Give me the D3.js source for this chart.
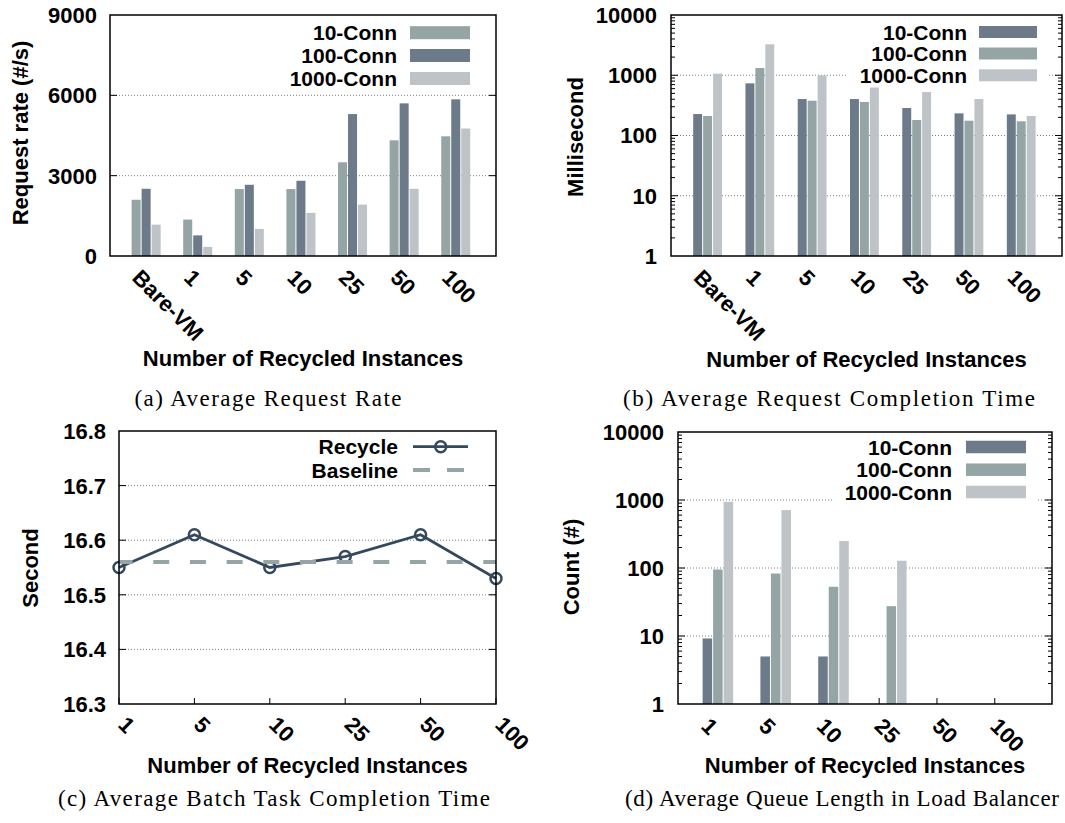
<!DOCTYPE html>
<html>
<head>
<meta charset="utf-8">
<script src="https://cdn.jsdelivr.net/npm/d3@7"></script>
<style>
  body { margin: 0; background: #fff; }
  svg text { font-family: "Liberation Sans", Arial, sans-serif; font-weight: bold; font-size: 22px; fill: #000; }
  svg text.key { font-size: 21px; }
  svg text.caption { font-family: "Liberation Serif", "Times New Roman", serif; font-weight: normal; font-size: 23px; }
</style>
</head>
<body>
<svg width="1065" height="823"></svg>
<script>
const groupsAB = ["Bare-VM", "1", "5", "10", "25", "50", "100"];
const groupsCD = ["1", "5", "10", "25", "50", "100"];
const connNames = ["10-Conn", "100-Conn", "1000-Conn"];

// (a) request rate, #/s
const rate10 = [2100, 1360, 2500, 2500, 3500, 4320, 4470];
const rate100 = [2510, 770, 2660, 2810, 5300, 5700, 5850];
const rate1000 = [1170, 340, 1010, 1610, 1920, 2510, 4760];

// (b) completion time, ms
const time10 = [227, 734, 403, 403, 286, 233, 224];
const time100 = [211, 1320, 378, 360, 181, 176, 172];
const time1000 = [1063, 3260, 997, 630, 527, 403, 211];

// (c) batch task time, s
const batchRecycle = [16.55, 16.61, 16.55, 16.57, 16.61, 16.53];
const batchBaseline = 16.56;

// (d) queue length
const queue10 = [9.2, 5, 5, null, null, null];
const queue100 = [95, 83, 53, 27.5, null, null];
const queue1000 = [940, 710, 250, 128, null, null];

const rateTicks = [0, 3000, 6000, 9000];
const logTicks = [1, 10, 100, 1000, 10000];
const secondTicks = [16.3, 16.4, 16.5, 16.6, 16.7, 16.8];

const dark = "#6c7a89", mid = "#95a5a6", light = "#bdc3c7", navy = "#34495e";

const svg = d3.select("svg");

function gridLines(g, b, y, vals) {
  g.append("g").selectAll("line").data(vals).join("line")
    .attr("x1", b.left).attr("x2", b.right)
    .attr("y1", d => y(d)).attr("y2", d => y(d))
    .attr("stroke", "#7f7f7f").attr("stroke-width", 1)
    .attr("stroke-dasharray", "1,2");
}

function sideTicks(g, b, y, vals, len) {
  const t = g.append("g").attr("stroke", "#000").attr("stroke-width", 1);
  vals.forEach(v => {
    t.append("line").attr("x1", b.left).attr("x2", b.left + len).attr("y1", y(v)).attr("y2", y(v));
    t.append("line").attr("x1", b.right).attr("x2", b.right - len).attr("y1", y(v)).attr("y2", y(v));
  });
}

function minorLog() {
  const out = [];
  [1, 10, 100, 1000].forEach(d => { for (let k = 2; k <= 9; k++) out.push(d * k); });
  return out;
}

function yLabels(g, b, y, vals, xr, fmt) {
  g.append("g").selectAll("text").data(vals).join("text")
    .attr("x", xr).attr("y", d => y(d)).attr("dy", "0.36em")
    .attr("text-anchor", "end").text(fmt);
}

function xLabels(g, pos, names, dy) {
  g.append("g").selectAll("text").data(names).join("text")
    .attr("transform", (d, i) => `translate(${pos(i)},${dy}) rotate(45)`)
    .text(d => d);
}

function titles(g, b, yTitle, yt, xBase, cap, capX, capY, capW) {
  g.append("text")
    .attr("transform", `translate(${yt[0]},${yt[1]}) rotate(-90)`)
    .attr("text-anchor", "middle").attr("dy", "0.36em").text(yTitle);
  g.append("text")
    .attr("x", (b.left + b.right) / 2).attr("y", xBase)
    .attr("text-anchor", "middle").text("Number of Recycled Instances");
  g.append("text").attr("class", "caption")
    .attr("x", capX).attr("y", capY).attr("text-anchor", "middle")
    .attr("textLength", capW).attr("lengthAdjust", "spacing")
    .text(cap);
}

function frame(g, b) {
  g.append("rect")
    .attr("x", b.left).attr("y", b.top)
    .attr("width", b.right - b.left).attr("height", b.bottom - b.top)
    .attr("fill", "none").attr("stroke", "#000").attr("stroke-width", 1.5);
}

function barLegend(g, lg, colors) {
  const l = g.append("g");
  l.append("rect")
    .attr("x", lg.textRight - 120).attr("y", lg.rows[0] - 12)
    .attr("width", lg.swRight - lg.textRight + 130)
    .attr("height", lg.rows[2] - lg.rows[0] + 24)
    .attr("fill", "#fff");
  connNames.forEach((n, j) => {
    l.append("text").attr("class", "key").attr("x", lg.textRight).attr("y", lg.rows[j])
      .attr("dy", "0.36em").attr("text-anchor", "end").text(n);
    l.append("rect").attr("x", lg.swLeft).attr("y", lg.rows[j] - lg.h / 2)
      .attr("width", lg.swRight - lg.swLeft).attr("height", lg.h)
      .attr("fill", colors[j]);
  });
}

function barPanel(p) {
  const g = svg.append("g");
  const b = p.box;
  const x = d3.scaleLinear().domain(p.xDomain).range([b.left, b.right]);
  const y = p.y;
  const bw = x(p.barW) - x(0);

  gridLines(g, b, y, p.grid);
  if (p.minor) sideTicks(g, b, y, p.minor, 4);
  sideTicks(g, b, y, p.grid, 7);

  g.append("g").selectAll("line").data(p.groups).join("line")
    .attr("x1", (d, i) => x(i - p.tickOff)).attr("x2", (d, i) => x(i - p.tickOff))
    .attr("y1", b.bottom).attr("y2", b.bottom - 6)
    .attr("stroke", "#000");

  p.series.forEach((vals, j) => {
    g.append("g").selectAll("rect")
      .data(vals.map((v, i) => ({ v, i })).filter(d => d.v != null))
      .join("rect")
      .attr("x", d => x(d.i + (j - 1) * p.barW) - bw / 2 + 0.5)
      .attr("width", bw - 1)
      .attr("y", d => y(d.v))
      .attr("height", d => y(p.base) - y(d.v))
      .attr("fill", p.colors[j]);
  });

  barLegend(g, p.legend, p.colors);
  frame(g, b);
  yLabels(g, b, y, p.ticks, p.tickRight, d => d);
  xLabels(g, i => x(i) + p.labDx, p.groups, b.bottom + p.labDy);
  titles(g, b, p.yTitle, p.yTitlePos, p.xBase, p.caption, p.capX, p.capY, p.capW);
}

// (a)
const boxA = { left: 110, top: 15, right: 496, bottom: 256 };
barPanel({
  box: boxA,
  xDomain: [-0.7, 6.78],
  y: d3.scaleLinear().domain([0, 9000]).range([boxA.bottom, boxA.top]),
  base: 0,
  groups: groupsAB,
  series: [rate10, rate100, rate1000],
  colors: [mid, dark, light],
  barW: 0.194,
  tickOff: 0.22,
  grid: [3000, 6000],
  ticks: rateTicks,
  tickRight: 97,
  labDx: -15, labDy: 23,
  legend: { textRight: 397, swLeft: 410, swRight: 470, h: 13, rows: [32.7, 55.5, 78.5] },
  yTitle: "Request rate (#/s)", yTitlePos: [20, 133],
  xBase: 366,
  caption: "(a) Average Request Rate", capX: 268, capY: 406, capW: 267
});

// (b)
const boxB = { left: 671, top: 15, right: 1062, bottom: 256 };
barPanel({
  box: boxB,
  xDomain: [-0.7, 6.78],
  y: d3.scaleLog().domain([1, 10000]).range([boxB.bottom, boxB.top]),
  base: 1,
  groups: groupsAB,
  series: [time10, time100, time1000],
  colors: [dark, mid, light],
  barW: 0.19,
  tickOff: 0.22,
  grid: [10, 100, 1000],
  minor: minorLog(),
  ticks: logTicks,
  tickRight: 657,
  labDx: -15, labDy: 23,
  legend: { textRight: 967, swLeft: 979, swRight: 1037, h: 12, rows: [32, 53.5, 75.3] },
  yTitle: "Millisecond", yTitlePos: [575.5, 137],
  xBase: 367,
  caption: "(b) Average Request Completion Time", capX: 829, capY: 406, capW: 412
});

// (d)
const boxD = { left: 678, top: 432, right: 1052, bottom: 704 };
barPanel({
  box: boxD,
  xDomain: [-0.69, 5.78],
  y: d3.scaleLog().domain([1, 10000]).range([boxD.bottom, boxD.top]),
  base: 1,
  groups: groupsCD,
  series: [queue10, queue100, queue1000],
  colors: [dark, mid, light],
  barW: 0.182,
  tickOff: 0.21,
  grid: [10, 100, 1000],
  minor: minorLog(),
  ticks: logTicks,
  tickRight: 664,
  labDx: -18, labDy: 23.5,
  legend: { textRight: 952, swLeft: 966, swRight: 1026, h: 12.5, rows: [447, 469.7, 492] },
  yTitle: "Count (#)", yTitlePos: [571, 567],
  xBase: 773,
  caption: "(d) Average Queue Length in Load Balancer", capX: 842, capY: 806, capW: 434
});

// (c)
const boxC = { left: 119, top: 431, right: 496, bottom: 704 };
const gc = svg.append("g");
const xc = d3.scaleLinear().domain([0, groupsCD.length - 1]).range([boxC.left, boxC.right]);
const yc = d3.scaleLinear().domain([16.3, 16.8]).range([boxC.bottom, boxC.top]);

gridLines(gc, boxC, yc, [16.4, 16.5, 16.6, 16.7]);
sideTicks(gc, boxC, yc, [16.4, 16.5, 16.6, 16.7], 7);
gc.append("g").selectAll("line").data(groupsCD).join("line")
  .attr("x1", (d, i) => xc(i)).attr("x2", (d, i) => xc(i))
  .attr("y1", boxC.bottom).attr("y2", boxC.bottom - 6)
  .attr("stroke", "#000");

gc.append("path")
  .datum(batchRecycle)
  .attr("d", d3.line().x((d, i) => xc(i)).y(d => yc(d)))
  .attr("fill", "none").attr("stroke", navy).attr("stroke-width", 2.8);
gc.append("g").selectAll("circle").data(batchRecycle).join("circle")
  .attr("cx", (d, i) => xc(i)).attr("cy", d => yc(d)).attr("r", 5.5)
  .attr("fill", "none").attr("stroke", navy).attr("stroke-width", 2.5);
gc.append("line")
  .attr("x1", boxC.left).attr("x2", boxC.right)
  .attr("y1", yc(batchBaseline)).attr("y2", yc(batchBaseline))
  .attr("stroke", mid).attr("stroke-width", 4)
  .attr("stroke-dasharray", "16,20.67").attr("stroke-dashoffset", 2.4);

const lc = gc.append("g");
lc.append("text").attr("class", "key").attr("x", 398).attr("y", 446.7).attr("dy", "0.36em")
  .attr("text-anchor", "end").text("Recycle");
lc.append("line").attr("x1", 413).attr("x2", 468).attr("y1", 446.7).attr("y2", 446.7)
  .attr("stroke", navy).attr("stroke-width", 2.8);
lc.append("circle").attr("cx", 440.7).attr("cy", 446.7).attr("r", 5.5)
  .attr("fill", "none").attr("stroke", navy).attr("stroke-width", 2.5);
lc.append("text").attr("class", "key").attr("x", 398).attr("y", 470).attr("dy", "0.36em")
  .attr("text-anchor", "end").text("Baseline");
lc.append("line").attr("x1", 413).attr("x2", 468).attr("y1", 470).attr("y2", 470)
  .attr("stroke", mid).attr("stroke-width", 4).attr("stroke-dasharray", "17,17");

frame(gc, boxC);
yLabels(gc, boxC, yc, secondTicks, 106, d => d.toFixed(1));
xLabels(gc, i => xc(i) - 2, groupsCD, boxC.bottom + 22);
titles(gc, boxC, "Second", [30, 568], 773, "(c) Average Batch Task Completion Time", 274, 806, 432);
</script>
</body>
</html>
